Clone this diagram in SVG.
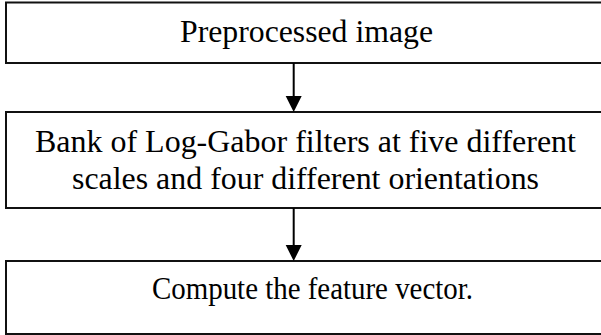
<svg xmlns="http://www.w3.org/2000/svg" width="601" height="335" viewBox="0 0 601 335">
  <style>
    .box { fill: #ffffff; stroke: #111111; stroke-width: 2; }
    .lbl { font-family: "Liberation Serif", "Times New Roman", serif; font-size: 31px; fill: #000000; }
    .conn { stroke: #000000; stroke-width: 2; fill: none; }
    .head { fill: #000000; }
  </style>
  <rect x="0" y="0" width="601" height="335" fill="#ffffff"/>

  <g id="node-preprocessed">
    <rect class="box" x="6" y="2.5" width="600" height="60.5"/>
    <text class="lbl" x="180" y="42" textLength="253" lengthAdjust="spacingAndGlyphs">Preprocessed image</text>
  </g>

  <g id="node-filterbank">
    <rect class="box" x="6" y="112" width="600" height="96"/>
    <text class="lbl" x="35" y="152" textLength="541" lengthAdjust="spacingAndGlyphs">Bank of Log-Gabor filters at five different</text>
    <text class="lbl" x="72" y="189" textLength="467" lengthAdjust="spacingAndGlyphs">scales and four different orientations</text>
  </g>

  <g id="node-feature">
    <rect class="box" x="6" y="261" width="600" height="73"/>
    <text class="lbl" x="152" y="299" textLength="321" lengthAdjust="spacingAndGlyphs">Compute the feature vector.</text>
  </g>

  <g id="connectors">
    <line class="conn" x1="293.7" y1="63" x2="293.7" y2="98"/>
    <polygon class="head" points="285.7,96 301.7,96 293.7,112"/>
    <line class="conn" x1="293.7" y1="208" x2="293.7" y2="247"/>
    <polygon class="head" points="285.7,245 301.7,245 293.7,261"/>
  </g>
</svg>
